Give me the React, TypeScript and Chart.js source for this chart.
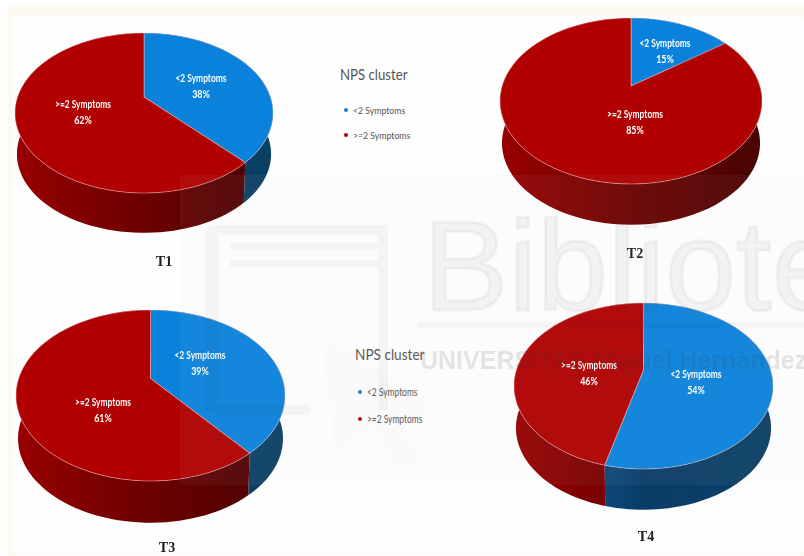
import React, { useEffect, useRef } from "react";
import { Chart, registerables } from "chart.js";

Chart.register(...registerables);

const categories = ["<2 Symptoms", ">=2 Symptoms"];
const panelNames = ["T1", "T2", "T3", "T4"];
const t1Values = [38, 62];
const t2Values = [15, 85];
const t3Values = [39, 61];
const t4Values = [54, 46];
const legendTitle = "NPS cluster";

const BLUE = "#0a82dc";
const RED = "#b00000";
const wallStops: string[][] = [
  ["#10649e", "#0a3c68", "#0b4065"],
  ["#980000", "#6c0000", "#480404"],
];

type Spot = [number, number];
type Panel = {
  name: string; values: number[];
  box: [number, number, number, number];
  cx: number; cy: number; rx: number; ry: number; apex: number; depth: number;
  labels: Spot[]; nameAt: Spot;
};

const panels: Panel[] = [
  { name: panelNames[0], values: t1Values, box: [0, 0, 335, 280], cx: 144, cy: 113, rx: 129, ry: 80, apex: -16, depth: 41,
    labels: [[201, 79], [83, 105]], nameAt: [164, 262] },
  { name: panelNames[1], values: t2Values, box: [480, 0, 324, 280], cx: 631, cy: 101, rx: 131, ry: 83, apex: -15, depth: 42,
    labels: [[665, 44], [635, 115]], nameAt: [635, 254] },
  { name: panelNames[2], values: t3Values, box: [0, 280, 335, 276], cx: 150.5, cy: 395.5, rx: 134.5, ry: 85.5, apex: -17, depth: 43,
    labels: [[200, 356], [103, 403]], nameAt: [167, 548] },
  { name: panelNames[3], values: t4Values, box: [480, 280, 324, 276], cx: 643.5, cy: 386, rx: 129.5, ry: 83, apex: -16, depth: 42,
    labels: [[696, 375], [589, 366]], nameAt: [646, 537] },
];

const legends = [
  { left: 340, titleTop: 74, titleSize: 15, titleStretch: 0.88, rows: [110, 135], textLeft: 353, size: 10, stretch: 0.87 },
  { left: 355, titleTop: 354, titleSize: 16, titleStretch: 0.85, rows: [392, 419], textLeft: 367, size: 10.5, stretch: 0.8 },
];

// Perspective view of a flat circle: the pie's centre is seen above the centre of the ellipse.
function project(p: Panel, angle: number, scale = 1, drop = 0): Spot {
  const k = p.apex / p.ry;
  const rx0 = p.rx * Math.sqrt(1 - k * k);
  const x = Math.cos(angle);
  const y = Math.sin(angle);
  const d = 1 + k * y;
  return [
    p.cx + (scale * rx0 * x) / d - p.box[0],
    p.cy + drop + (scale * (p.ry * y + p.apex)) / d - p.box[1],
  ];
}

function narrowText(ctx: CanvasRenderingContext2D, text: string, x: number, y: number, stretch: number) {
  ctx.save();
  ctx.translate(x, y);
  ctx.scale(stretch, 1);
  ctx.fillText(text, 0, 0);
  ctx.restore();
}

const pie3d = {
  id: "pie3d",
  beforeDatasetsDraw(chart: any, _args: any, opts: any) {
    const p: Panel = opts.panel;
    const ctx: CanvasRenderingContext2D = chart.ctx;
    const arcs = chart.getDatasetMeta(0).data;
    const total = p.values.reduce((a: number, b: number) => a + b, 0);
    const STEPS = 90;
    const sample = (a: number, b: number, i: number) => a + ((b - a) * i) / STEPS;

    ctx.save();
    // side wall
    arcs.forEach((el: any, idx: number) => {
      const a = el.startAngle, b = el.endAngle;
      const g = ctx.createLinearGradient(p.cx - p.rx - p.box[0], 0, p.cx + p.rx - p.box[0], 0);
      wallStops[idx].forEach((c, i) => g.addColorStop(i / 2, c));
      ctx.beginPath();
      for (let i = 0; i <= STEPS; i++) {
        const [x, y] = project(p, sample(a, b, i));
        i ? ctx.lineTo(x, y) : ctx.moveTo(x, y);
      }
      for (let i = STEPS; i >= 0; i--) {
        const [x, y] = project(p, sample(a, b, i), 0.985, p.depth);
        ctx.lineTo(x, y);
      }
      ctx.closePath();
      ctx.fillStyle = g;
      ctx.fill();
    });
    // top face
    arcs.forEach((el: any) => {
      const a = el.startAngle, b = el.endAngle;
      ctx.beginPath();
      ctx.moveTo(p.cx - p.box[0], p.cy + p.apex - p.box[1]);
      for (let i = 0; i <= STEPS; i++) {
        const [x, y] = project(p, sample(a, b, i));
        ctx.lineTo(x, y);
      }
      ctx.closePath();
      ctx.fillStyle = el.options.backgroundColor;
      ctx.fill();
      ctx.strokeStyle = "rgba(255,210,210,0.45)";
      ctx.lineWidth = 1;
      ctx.stroke();
    });
    // slice labels and the panel name
    ctx.textAlign = "center";
    ctx.textBaseline = "middle";
    ctx.fillStyle = "#ffffff";
    arcs.forEach((_el: any, idx: number) => {
      const [lx, ly] = p.labels[idx];
      ctx.font = "700 10.5px Lato";
      narrowText(ctx, categories[idx], lx - p.box[0], ly - p.box[1], 0.8);
      narrowText(ctx, `${Math.round((p.values[idx] / total) * 100)}%`, lx - p.box[0], ly + 16 - p.box[1], 0.85);
    });
    ctx.fillStyle = "#1c1c1c";
    ctx.font = "bold 14px 'Liberation Serif'";
    ctx.fillText(p.name, p.nameAt[0] - p.box[0], p.nameAt[1] - p.box[1]);
    ctx.restore();
    return false;
  },
};

function PieCanvas({ panel }: { panel: Panel }) {
  const ref = useRef<HTMLCanvasElement>(null);
  useEffect(() => {
    const chart = new Chart(ref.current as HTMLCanvasElement, {
      type: "pie",
      data: {
        labels: categories,
        datasets: [{ data: panel.values, backgroundColor: [BLUE, RED], borderWidth: 0 }],
      },
      options: {
        animation: false,
        responsive: false,
        plugins: { legend: { display: false }, tooltip: { enabled: false }, pie3d: { panel } } as any,
      },
      plugins: [pie3d as any],
    });
    return () => chart.destroy();
  }, [panel]);
  const [l, t, w, h] = panel.box;
  return <canvas ref={ref} width={w} height={h} style={{ position: "absolute", left: l, top: t, width: w, height: h }} />;
}

function Watermark() {
  const block = "rgba(60,60,60,0.04)";
  return (
    <svg width={804} height={556} style={{ position: "absolute", left: 0, top: 0, pointerEvents: "none" }}>
      <rect x={180} y={175} width={624} height={310} fill="rgba(225,225,225,0.05)" />
      <g fill={block}>
        <path d="M205 235 q0 -10 10 -10 H388 V410 H378 V235 H218 V410 H205 Z" />
        <rect x={230} y={243} width={148} height={7} />
        <rect x={230} y={260} width={148} height={7} />
        <rect x={218} y={405} width={92} height={10} />
        <rect x={418} y={322} width={386} height={6} />
      </g>
      <path d="M320 330 L440 410 L400 425 L425 462 L395 470 L372 430 L335 455 Z" fill="rgba(60,60,60,0.012)" />
      <text x={423} y={310} fontFamily="Liberation Sans" fontSize={128} fill="rgba(60,60,60,0.05)" stroke="rgba(60,60,60,0.05)" strokeWidth={3} paintOrder="stroke">Bibliote</text>
      <text x={420} y={369} fontFamily="Liberation Sans" fontWeight="bold" fontSize={25} fill="rgba(60,60,60,0.13)">UNIVERSITAS Miguel Hernández</text>
    </svg>
  );
}

export default function App() {
  return (
    <div style={{ position: "absolute", left: 0, top: 0, width: 804, height: 556, overflow: "hidden", background: "#fff", filter: "blur(0.6px)" }}>
      <div style={{ position: "absolute", left: 8, top: 5, width: 796, height: 551, background: "#fdf9ef" }} />
      <div style={{ position: "absolute", left: 12, top: 15, width: 792, height: 540, background: "#fefefe", borderRadius: 5 }} />
      {panels.map((p) => <PieCanvas key={p.name} panel={p} />)}
      {legends.map((l, i) => (
        <div key={i} style={{ fontFamily: "Lato", color: "#555" }}>
          <div style={{ position: "absolute", left: l.left, top: l.titleTop - 10, fontSize: l.titleSize, lineHeight: "20px", whiteSpace: "nowrap", transform: `scaleX(${l.titleStretch})`, transformOrigin: "left center" }}>{legendTitle}</div>
          {categories.map((c, j) => (
            <div key={c}>
              <div style={{ position: "absolute", left: l.textLeft - 9, top: l.rows[j] - 2, width: 4, height: 4, borderRadius: 2, background: j ? RED : BLUE }} />
              <div style={{ position: "absolute", left: l.textLeft, top: l.rows[j] - 7, fontSize: l.size, lineHeight: "14px", whiteSpace: "nowrap", transform: `scaleX(${l.stretch})`, transformOrigin: "left center" }}>{c}</div>
            </div>
          ))}
        </div>
      ))}
      <Watermark />
    </div>
  );
}
